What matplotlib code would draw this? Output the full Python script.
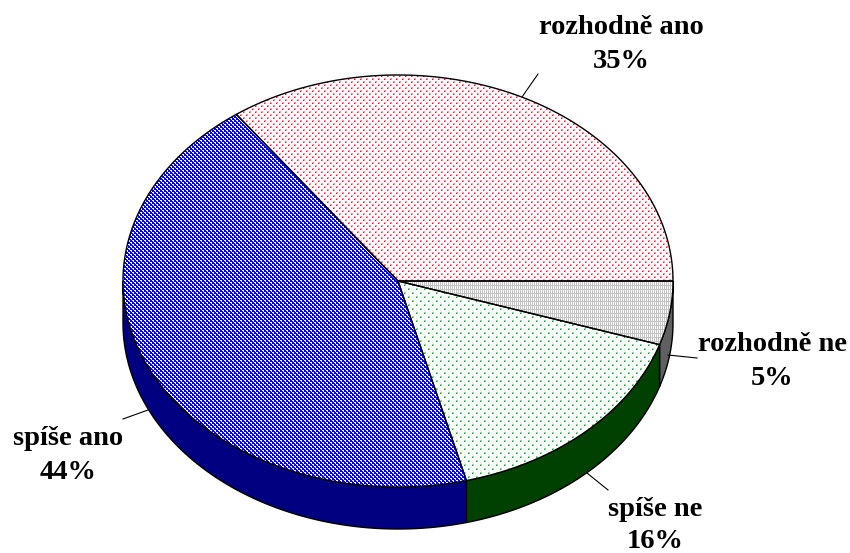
import numpy as np
import matplotlib
matplotlib.use("Agg")
import matplotlib.pyplot as plt
from matplotlib.patches import Polygon
from matplotlib.colors import to_rgb

categories = ["rozhodně ne", "spíše ne", "spíše ano", "rozhodně ano"]
values = [5, 16, 44, 35]
side_colors = ["#606060", "#004000", "#000080", None]

W, H = 850, 553
CX, CY, RX, RY, DEPTH = 398, 281, 275, 206, 42

# 1-bit style fill patterns: . white, x main colour, o soft colour
PATTERNS = [
    (["x.x.", "xxxx", "x.x.", "x.x."], {"x": "#C4C4C4"}),
    (["oo......", "xo......", "........", "........", "....oo..", "....xo..", "........", "........"],
     {"x": "#10A028", "o": "#90D8A0"}),
    (["..xx..xx", "x.xxx.xx", "xx..xx..", "xxx.xxx."],
     {"x": "#0000F8"}),
    (["oo....", "xo....", "......", "...oo.", "...xo.", "......"],
     {"x": "#FF1030", "o": "#FF98A4"}),
]


def tile(i):
    rows, cols = PATTERNS[i]
    t = np.ones((len(rows), len(rows[0]), 3))
    for r, row in enumerate(rows):
        for c, ch in enumerate(row):
            if ch in cols:
                t[r, c] = to_rgb(cols[ch])
    return t


def to_data_x(px):
    return (px - CX) / RX


def to_data_y(py):
    return (CY - py) / RY


fig = plt.figure(figsize=(W / 100, H / 100), dpi=100)
ax = fig.add_axes([0, 0, 1, 1])

wedges, _ = ax.pie(values, startangle=0, counterclock=False, radius=1, center=(0, 0),
                   colors=["white"] * 4,
                   wedgeprops=dict(edgecolor="none", linewidth=0))
ax.set_aspect("auto")
ax.axis("off")

cum = np.cumsum([0] + values) / sum(values) * 360
d = DEPTH / RY
for i, col in enumerate(side_colors):
    a0, a1 = cum[i], min(cum[i + 1], 180)
    if col is None or a0 >= 180:
        continue
    t = np.radians(np.linspace(a0, a1, 120))
    x, y = np.cos(t), -np.sin(t)
    pts = np.r_[np.c_[x, y], np.c_[x[::-1], y[::-1] - d]]
    ax.add_patch(Polygon(pts, closed=True, facecolor=col, edgecolor="black", lw=1.0, zorder=1))

for i, w in enumerate(wedges):
    tl = tile(i)
    img = np.tile(tl, (H // tl.shape[0] + 1, W // tl.shape[1] + 1, 1))[:H, :W]
    im = ax.imshow(img, extent=(to_data_x(0), to_data_x(W), to_data_y(H), to_data_y(0)),
                   interpolation="nearest", aspect="auto", zorder=2)
    im.set_clip_path(w)
    w.set_zorder(1.5)

for i in range(4):
    t = np.radians(np.linspace(cum[i], cum[i + 1], 200))
    x, y = np.cos(t), -np.sin(t)
    ax.add_patch(Polygon(np.r_[[[0, 0]], np.c_[x, y]], closed=True, fill=False,
                         edgecolor="black", lw=1.0, zorder=3))

labels = {
    "rozhodně ano": ("35%", 621, 34, 68, [(522, 97), (538, 74)]),
    "rozhodně ne": ("5%", 772, 351, 385, [(668, 355), (697, 358)]),
    "spíše ne": ("16%", 655, 516, 548, [(587, 473), (608, 490)]),
    "spíše ano": ("44%", 68, 445, 479, [(123, 419), (148, 410)]),
}
for name, v in zip(categories, values):
    pct, px, py1, py2, seg = labels[name]
    ax.text(to_data_x(px), to_data_y(py1), name, ha="center", va="baseline",
            family="Liberation Serif", weight="bold", fontsize=20.5, color="black")
    ax.text(to_data_x(px), to_data_y(py2), pct, ha="center", va="baseline",
            family="Liberation Serif", weight="bold", fontsize=20.5, color="black")
    ax.plot([to_data_x(seg[0][0]), to_data_x(seg[1][0])],
            [to_data_y(seg[0][1]), to_data_y(seg[1][1])],
            color="black", lw=0.8, zorder=1)
ax.set_xlim(to_data_x(0), to_data_x(W))
ax.set_ylim(to_data_y(H), to_data_y(0))

fig.savefig("out.png", dpi=100, facecolor="white")
